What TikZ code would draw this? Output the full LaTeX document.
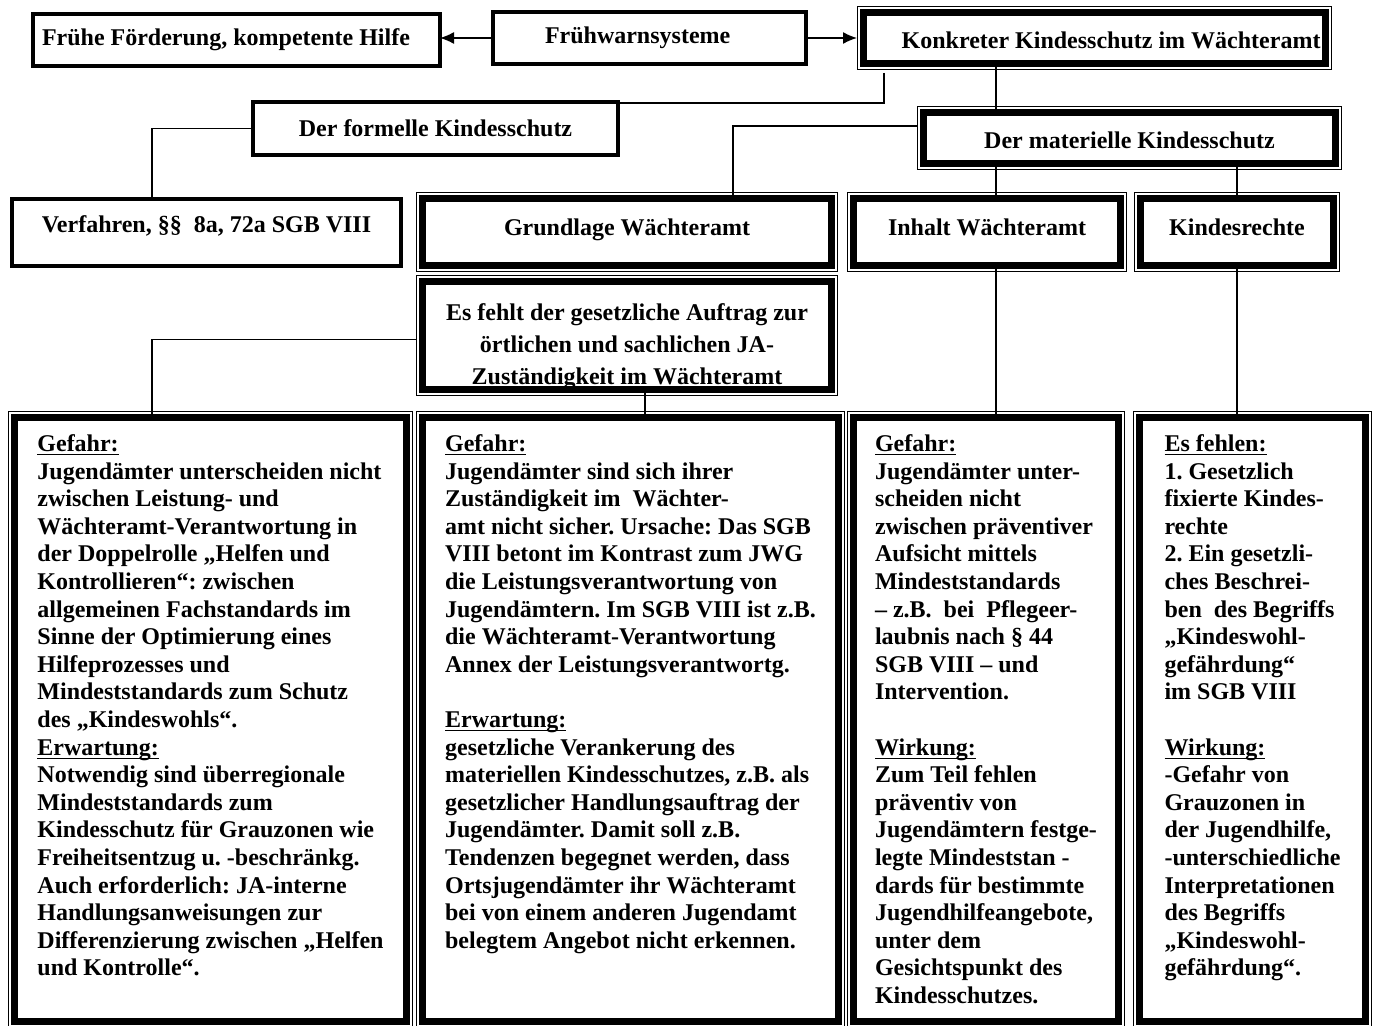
\documentclass[tikz,border=0pt]{standalone}
\usepackage{fontspec}
\setmainfont{Liberation Serif}
\usetikzlibrary{arrows.meta}
\usetikzlibrary{calc}
\frenchspacing

\tikzset{
  txt/.style={font=\bfseries\fontsize{12}{13.8}\selectfont, outer sep=0pt, anchor=north west},
  plainbox/.style={txt, draw, line width=2pt},
  framebox/.style={txt},
  notebox/.style={txt, align=left, inner sep=0pt, text height=#1, text depth=302pt-#1},
  link/.style={line width=0.7pt},
  tip/.style={-{Latex[length=7pt,width=6pt]}},
}
\newcommand{\head}[1]{\underline{\smash{#1}}}

\begin{document}
\begin{tikzpicture}[x=1pt, y=-1pt]
\useasboundingbox (0,0) rectangle (689,513);

% upper boxes
\node[plainbox, minimum width=203.5pt, minimum height=26pt, text width=194.5pt, align=flush left, inner xsep=4.5pt] (fruehe) at (16.5,7) {Frühe Förderung, kompetente Hilfe};
\node[plainbox, minimum width=156.5pt, minimum height=26pt, text width=104.5pt, align=flush left, inner xsep=26pt] (warn) at (246.5,6) {Frühwarnsysteme};
\node[framebox, minimum width=231pt, minimum height=25.5pt, text width=226pt, align=flush right, inner xsep=2.5pt,
  text height=11pt, text depth=0pt] (konkret) at (431.75,6.25) {Konkreter Kindesschutz im Wächteramt};
\node[plainbox, minimum width=182.5pt, minimum height=26.5pt] (formell) at (126.5,51) {Der formelle Kindesschutz};
\node[framebox, minimum width=206pt, minimum height=25.5pt, text height=11pt, text depth=0pt] (materiell) at (461.75,56.25) {Der materielle Kindesschutz};
\node[plainbox, minimum width=194.5pt, minimum height=33.5pt, text height=9pt, text depth=9pt] (verfahren) at (6,99.5) {Verfahren, §§\ \ 8a, 72a SGB VIII};
\node[framebox, minimum width=204.5pt, minimum height=33.5pt, text height=9pt, text depth=5pt] (grundlage) at (211.25,99.25) {Grundlage Wächteramt};
\node[framebox, minimum width=133.5pt, minimum height=33.5pt, text height=9pt, text depth=5pt] (inhalt) at (426.75,99.25) {Inhalt Wächteramt};
\node[framebox, minimum width=96.5pt, minimum height=33.5pt, text height=9pt, text depth=5pt] (rechte) at (570.25,99.25) {Kindesrechte};
\node[framebox, minimum width=204.5pt, align=center, inner sep=0pt, text height=51.75pt, text depth=2.25pt,
  font=\bfseries\fontsize{12}{16}\selectfont] (fehlt) at (211.25,140.75)
  {Es fehlt der gesetzliche Auftrag zur\\örtlichen und sachlichen JA-\\Zuständigkeit im Wächteramt};

% lower boxes
\node[notebox=279.2pt, minimum width=196pt] (gefahrA) at (7.25,208.75) {\head{Gefahr:}\\
  Jugendämter unterscheiden nicht\\
  zwischen Leistung- und\\
  Wächteramt-Verantwortung in\\
  der Doppelrolle „Helfen und\\
  Kontrollieren“: zwischen\\
  allgemeinen Fachstandards im\\
  Sinne der Optimierung eines\\
  Hilfeprozesses und\\
  Mindeststandards zum Schutz\\
  des „Kindeswohls“.\\
  \head{Erwartung:}\\
  Notwendig sind überregionale\\
  Mindeststandards zum\\
  Kindesschutz für Grauzonen wie\\
  Freiheitsentzug u. -beschränkg.\\
  Auch erforderlich: JA-interne\\
  Handlungsanweisungen zur\\
  Differenzierung zwischen „Helfen\\
  und Kontrolle“.};
\node[notebox=265.4pt, minimum width=208pt] (gefahrB) at (211.25,208.75) {\head{Gefahr:}\\
  Jugendämter sind sich ihrer\\
  Zuständigkeit im\ \ Wächter-\\
  amt nicht sicher. Ursache: Das SGB\\
  VIII betont im Kontrast zum JWG\\
  die Leistungsverantwortung von\\
  Jugendämtern. Im SGB VIII ist z.B.\\
  die Wächteramt-Verantwortung\\
  Annex der Leistungsverantwortg.\\[13.8pt]
  \head{Erwartung:}\\
  gesetzliche Verankerung des\\
  materiellen Kindesschutzes, z.B. als\\
  gesetzlicher Handlungsauftrag der\\
  Jugendämter. Damit soll z.B.\\
  Tendenzen begegnet werden, dass\\
  Ortsjugendämter ihr Wächteramt\\
  bei von einem anderen Jugendamt\\
  belegtem Angebot nicht erkennen.};
\node[notebox=293pt, minimum width=132.5pt] (gefahrC) at (426.75,208.75) {\head{Gefahr:}\\
  Jugendämter unter-\\
  scheiden nicht\\
  zwischen präventiver\\
  Aufsicht mittels\\
  Mindeststandards\\
  – z.B.\ \ bei\ \ Pflegeer-\\
  laubnis nach § 44\\
  SGB VIII – und\\
  Intervention.\\[13.8pt]
  \head{Wirkung:}\\
  Zum Teil fehlen\\
  präventiv von\\
  Jugendämtern festge-\\
  legte Mindeststan -\\
  dards für bestimmte\\
  Jugendhilfeangebote,\\
  unter dem\\
  Gesichtspunkt des\\
  Kindesschutzes.};
\node[notebox=279.2pt, minimum width=113pt] (fehlen) at (569.75,208.75) {\head{Es fehlen:}\\
  1. Gesetzlich\\
  fixierte Kindes-\\
  rechte\\
  2. Ein gesetzli-\\
  ches Beschrei-\\
  ben\ \ des Begriffs\\
  „Kindeswohl-\\
  gefährdung“\\
  im SGB VIII\\[13.8pt]
  \head{Wirkung:}\\
  -Gefahr von\\
  Grauzonen in\\
  der Jugendhilfe,\\
  -unterschiedliche\\
  Interpretationen\\
  des Begriffs\\
  „Kindeswohl-\\
  gefährdung“.};

% thick-thin frames
\foreach \n in {konkret,materiell,grundlage,inhalt,rechte,fehlt,gefahrA,gefahrB,gefahrC,fehlen} {
  \draw[line width=3.5pt] (\n.north west) rectangle (\n.south east);
  \draw[line width=0.5pt] ([shift={(-3pt,3pt)}]\n.north west) rectangle ([shift={(3pt,-3pt)}]\n.south east);
}

% connectors
\coordinate (colA) at (76,0);
\coordinate (colB) at (366.5,0);
\coordinate (colC) at (322.5,0);
\coordinate (colD) at (498,0);
\draw[link, tip] (warn.west) -- (warn.west -| fruehe.east);
\draw[link, tip] (warn.east) -- ($(warn.east -| konkret.west)+(-3.25pt,0pt)$);
\draw[link] ($(konkret.south west)+(10.25pt,-4.75pt)$) |- ($(formell.north east)+(0pt,-0.5pt)$);
\draw[link] (konkret.south -| colD) -- (materiell.north -| colD);
\draw[link] ($(materiell.west)+(-3pt,6pt)$) -| (colB |- grundlage.north);
\draw[link] (formell.west) -| (colA |- verfahren.north);
\draw[link] (materiell.south -| colD) -- (inhalt.north -| colD);
\draw[link] (materiell.south -| rechte.north) -- (rechte.north);
\draw[link] (inhalt.south -| colD) -- (gefahrC.north -| colD);
\draw[link] (rechte.south) -- (rechte.south |- fehlen.north);
\draw[link] ($(fehlt.west)+(-3pt,-2pt)$) -| (colA |- gefahrA.north);
\draw[link] (fehlt.south -| colC) -- (colC |- gefahrB.north);
\end{tikzpicture}
\end{document}
